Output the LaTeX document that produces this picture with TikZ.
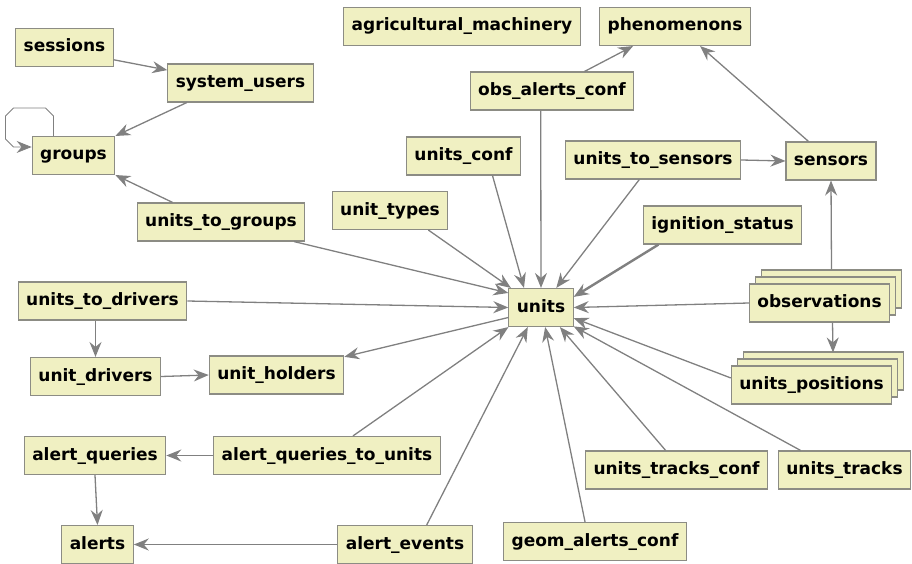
\documentclass[tikz,border=0pt]{standalone}
\usepackage{fontspec}
\setmainfont{DejaVu Sans}
\usetikzlibrary{arrows.meta, shadows}
\definecolor{tblfill}{RGB}{240, 240, 194}
\definecolor{tbldraw}{RGB}{140, 140, 132}
\definecolor{linkgray}{RGB}{128, 128, 128}
\tikzset{
    tbl/.style={draw=tbldraw, fill=tblfill, line width=1.1pt,
        font=\fontsize{17}{20}\selectfont\bfseries, inner xsep=8pt,
        inner ysep=10.5pt, text height=13pt, text depth=4pt},
    tblstack/.style={tbl, double copy shadow={shadow xshift=6pt,
        shadow yshift=7pt}},
    link/.style={draw=linkgray, line width=1.3pt,
        -{Stealth[length=15pt, width=12pt, inset=5pt]}},
}

\begin{document}
\begin{tikzpicture}[x=1pt, y=-1pt]
        \useasboundingbox (0, 0) rectangle (912, 564);
        \node[tbl] (sessions) at (64.5, 47.5) {sessions};
        \node[tbl] (system_users) at (240.5, 83) {system\_users};
        \node[tbl] (groups) at (73.5, 155.5) {groups};
        \node[tbl] (agricultural_machinery) at (462, 26.5)
            {agricultural\_machinery};
        \node[tbl] (phenomenons) at (675, 26.5) {phenomenons};
        \node[tbl] (obs_alerts_conf) at (552, 91) {obs\_alerts\_conf};
        \node[tbl] (units_conf) at (463.5, 156) {units\_conf};
        \node[tbl] (units_to_sensors) at (653, 160) {units\_to\_sensors};
        \node[tbl] (sensors) at (831, 161) {sensors};
        \node[tbl] (units_to_groups) at (221, 222) {units\_to\_groups};
        \node[tbl] (unit_types) at (390, 210.5) {unit\_types};
        \node[tbl] (ignition_status) at (722.5, 225) {ignition\_status};
        \node[tbl] (units_to_drivers) at (102.5, 301) {units\_to\_drivers};
        \node[tbl] (units) at (541, 307.5) {units};
        \node[tblstack] (observations) at (819.5, 303) {observations};
        \node[tbl] (unit_drivers) at (95.5, 376.5) {unit\_drivers};
        \node[tbl] (unit_holders) at (276.5, 375) {unit\_holders};
        \node[tblstack] (units_positions) at (811.5, 385) {units\_positions};
        \node[tbl] (alert_queries) at (95, 455.5) {alert\_queries};
        \node[tbl] (alert_queries_to_units) at (327, 455.5)
            {alert\_queries\_to\_units};
        \node[tbl] (units_tracks_conf) at (676.5, 470) {units\_tracks\_conf};
        \node[tbl] (units_tracks) at (844.5, 470) {units\_tracks};
        \node[tbl] (alerts) at (97.5, 544.5) {alerts};
        \node[tbl] (alert_events) at (405, 544.5) {alert\_events};
        \node[tbl] (geom_alerts_conf) at (595, 541.5) {geom\_alerts\_conf};
        % references between the other tables
        \draw[link] (sessions.-14) -- (system_users.170);
        \draw[link] (system_users.-160) -- (groups.25);
        \draw[link, line width=.8pt] ([xshift=-20pt]groups.north) -- ++(0, -20)
            -- ++(-8, -8) -- ++(-32, 0) -- ++(-8, 8) -- ++(0, 23) -- ++(8, 8)
            -- ([yshift=8.5pt]groups.west);
        \draw[link] (units_to_groups.158) -- (groups.-25);
        \draw[link] (obs_alerts_conf.31) -- (phenomenons.-155);
        \draw[link] (sensors.139) -- (phenomenons.-38);
        \draw[link] (units_to_sensors.east) -- (sensors.west);
        \draw[link] ([xshift=12pt, yshift=14pt]observations.north)
            -- (sensors.south);
        \draw[link] ([xshift=13pt]observations.south)
            -- ([xshift=21.5pt, yshift=13pt]units_positions.north);
        \draw[link] (units_to_drivers.south -| unit_drivers.north)
            -- (unit_drivers.north);
        \draw[link] (unit_drivers.east) -- (unit_holders.west);
        \draw[link] (alert_queries_to_units.west) -- (alert_queries.east);
        \draw[link] (alert_queries.south) -- (alerts.north);
        \draw[link] (alert_events.west) -- (alerts.east);
        % references into units
        \draw[link] (units_to_groups.-15) -- (units.156);
        \draw[link] (unit_types.-27) -- (units.147);
        \draw[link] (units_conf.-34) -- (units.131);
        \draw[link] (obs_alerts_conf.-120) -- (units.north);
        \draw[link] (units_to_sensors.-125) -- (units.52);
        \draw[link, line width=2.4pt] (ignition_status.-163) -- (units.18);
        \draw[link] (observations.west) -- (units.east);
        \draw[link] (units_positions.175) -- (units.-18);
        \draw[link] (units_tracks.156) -- (units.-30);
        \draw[link] (units_tracks_conf.119) -- (units.-46);
        \draw[link] (geom_alerts_conf.117) -- (units.-78);
        \draw[link] (alert_events.42) -- (units.-124);
        \draw[link] (alert_queries_to_units.37) -- (units.-149);
        \draw[link] (units_to_drivers.east) -- (units.west);
        \draw[link] (units.-163) -- (unit_holders.15);
    \end{tikzpicture}
\end{document}
